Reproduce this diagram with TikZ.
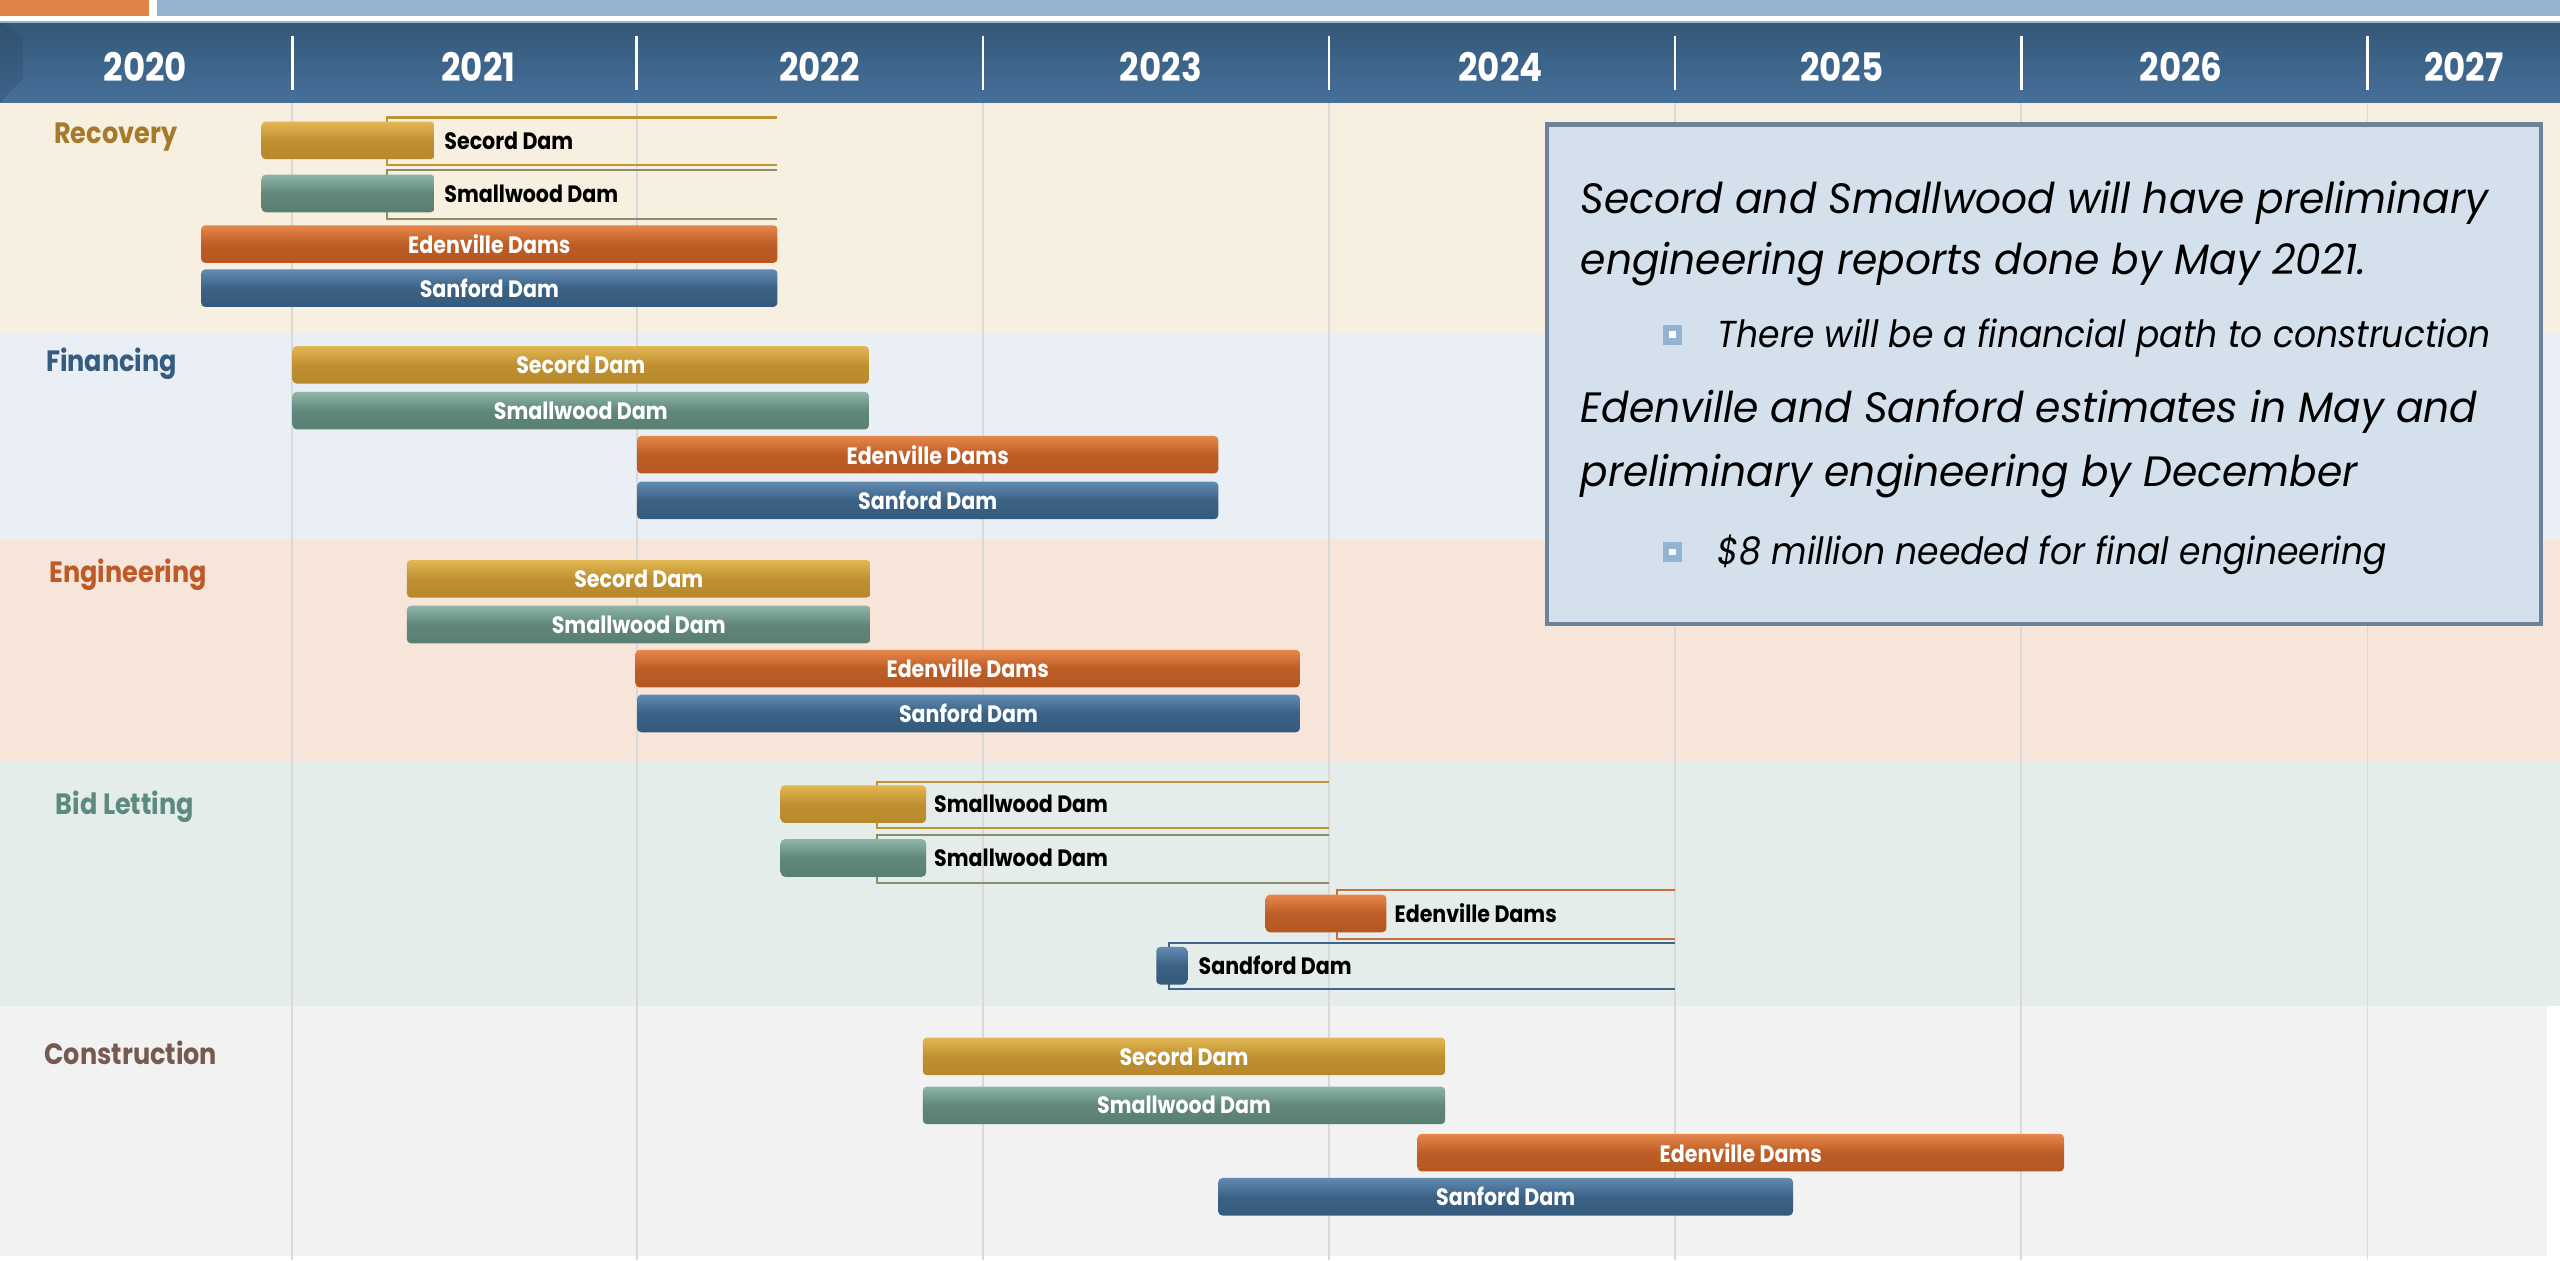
\documentclass[tikz,border=0pt]{standalone}
\usepackage{fontspec}
\setmainfont[FakeStretch=0.87]{Poppins}
\newfontfamily\notefont[FakeStretch=0.96]{Poppins}
\newfontfamily\subfont[FakeStretch=0.92]{Poppins}
\usetikzlibrary{positioning}

\definecolor{stripOrange}{HTML}{E0824A}
\definecolor{stripBlue}{HTML}{95B3D1}
\definecolor{hdrTop}{HTML}{335778}
\definecolor{hdrBottom}{HTML}{46709A}
\definecolor{hdrEdge}{HTML}{9FB3C6}
\definecolor{bandRecovery}{HTML}{F7EFDF}
\definecolor{bandFinance}{HTML}{EAEFF6}
\definecolor{bandEngineer}{HTML}{F8E5DA}
\definecolor{bandBid}{HTML}{E4EDEA}
\definecolor{bandBuild}{HTML}{F2F2F2}
\definecolor{gridGray}{HTML}{D9D9D9}
\definecolor{goldBase}{HTML}{B8892B}
\definecolor{goldTop}{HTML}{E3B752}
\definecolor{tealBase}{HTML}{597F73}
\definecolor{tealTop}{HTML}{8DB5A8}
\definecolor{orangeBase}{HTML}{B65620}
\definecolor{orangeTop}{HTML}{E6874B}
\definecolor{blueBase}{HTML}{345A7D}
\definecolor{blueTop}{HTML}{628BB2}
\definecolor{goldLine}{HTML}{BF9435}
\definecolor{tealLine}{HTML}{8C8E68}
\definecolor{orangeLine}{HTML}{C8703F}
\definecolor{blueLine}{HTML}{3E668C}
\definecolor{phRecovery}{HTML}{A57A2A}
\definecolor{phFinance}{HTML}{355B80}
\definecolor{phEngineer}{HTML}{BD5A28}
\definecolor{phBid}{HTML}{5C8A7E}
\definecolor{phBuild}{HTML}{765A50}
\definecolor{noteFill}{HTML}{D4E1EC}
\definecolor{noteEdge}{HTML}{6C8399}
\definecolor{bulletBlue}{HTML}{93B3D3}

\tikzset{
	bar/.style={anchor=west, rounded corners=2.5pt, minimum height=23pt, inner sep=0pt, text=white, font=\bfseries\fontsize{14.5}{14.5}\selectfont},
	goldbar/.style={bar, top color=goldTop, bottom color=goldBase, middle color=goldBase!85!goldTop},
	tealbar/.style={bar, top color=tealTop, bottom color=tealBase, middle color=tealBase!85!tealTop},
	orangebar/.style={bar, top color=orangeTop, bottom color=orangeBase, middle color=orangeBase!85!orangeTop},
	bluebar/.style={bar, top color=blueTop, bottom color=blueBase, middle color=blueBase!85!blueTop},
	tag/.style={anchor=west, inner sep=0pt, text=black, font=\bfseries\fontsize{14.5}{14.5}\selectfont},
	phase/.style={anchor=west, inner sep=0pt, font=\bfseries\fontsize{18}{18}\selectfont},
	year/.style={inner sep=0pt, text=white, font=\bfseries\fontsize{24}{24}\selectfont},
	bracket/.style={line width=1.3pt},
	noteline/.style={anchor=base west, inner sep=0pt, font=\notefont\itshape\fontsize{26}{26}\selectfont},
	subline/.style={anchor=base west, inner sep=0pt, font=\subfont\itshape\fontsize{23}{23}\selectfont},
	bullet/.style={draw=bulletBlue, line width=4pt, fill=white, minimum size=8pt, inner sep=0pt}
}

\begin{document}
\begin{tikzpicture}[x=1pt, y=-1pt]
				\useasboundingbox (0,0) rectangle (1568,772);
				\fill[white] (0,0) rectangle (1568,772);
				\fill[stripOrange] (0,0) rectangle (91,9.5);
				\fill[stripBlue] (96,0) rectangle (1568,9.5);
				\fill[bandRecovery] (0,63) rectangle (1568,204);
				\fill[bandFinance] (0,204) rectangle (1568,331);
				\fill[bandEngineer] (0,331) rectangle (1568,466);
				\fill[bandBid] (0,466) rectangle (1568,616);
				\fill[bandBuild] (0,616) rectangle (1560,769);
				\draw[gridGray, line width=1pt] (179,63) -- (179,772);
				\draw[gridGray, line width=1pt] (390,63) -- (390,772);
				\draw[gridGray, line width=1pt] (602,63) -- (602,772);
				\draw[gridGray, line width=1pt] (814,63) -- (814,772);
				\draw[gridGray, line width=1pt] (1026,63) -- (1026,772);
				\draw[gridGray, line width=1pt] (1238,63) -- (1238,772);
				\draw[gridGray, line width=1pt] (1450,63) -- (1450,772);
				\shade[top color=hdrTop, bottom color=hdrBottom] (0,13.5) rectangle (1568,63);
				\fill[hdrTop!80!black, opacity=0.3] (0,13.5) -- (14,22) -- (14,48) -- (0,63) -- cycle;
				\draw[hdrEdge, line width=1pt] (0,13.5) -- (1568,13.5);
				\draw[white, line width=1.6pt] (179,22) -- (179,55);
				\draw[white, line width=1.6pt] (390,22) -- (390,55);
				\draw[white, line width=1.6pt] (602,22) -- (602,55);
				\draw[white, line width=1.6pt] (814,22) -- (814,55);
				\draw[white, line width=1.6pt] (1026,22) -- (1026,55);
				\draw[white, line width=1.6pt] (1238,22) -- (1238,55);
				\draw[white, line width=1.6pt] (1450,22) -- (1450,55);
				\node[year] (y2020) at (89,41) {2020};
				\node[year] (y2021) at (293,41) {2021};
				\node[year] (y2022) at (502,41) {2022};
				\node[year] (y2023) at (711,41) {2023};
				\node[year] (y2024) at (919,41) {2024};
				\node[year] (y2025) at (1128,41) {2025};
				\node[year] (y2026) at (1336,41) {2026};
				\node[year] (y2027) at (1509,41) {2027};
				\node[phase, text=phRecovery] (recovery) at (33,84) {Recovery};
				\node[phase, text=phFinance] (financing) at (28,223) {Financing};
				\node[phase, text=phEngineer] (engineering) at (30,352) {Engineering};
				\node[phase, text=phBid] (bidding) at (34,494) {Bid Letting};
				\node[phase, text=phBuild] (construction) at (27,645) {Construction};
				\draw[bracket, goldLine] (476,72) -| (237,101) -- (476,101);
				\draw[bracket, tealLine] (476,104) -| (237,134) -- (476,134);
				\node[goldbar, minimum width=106pt] (recSecord) at (160,86) {};
				\node[tag] (recSecordTag) at (272,86) {Secord Dam};
				\node[tealbar, minimum width=106pt] (recSmall) at (160,118.5) {};
				\node[tag] (recSmallTag) at (272,118.5) {Smallwood Dam};
				\node[orangebar, minimum width=353pt] (recEden) at (123,149.5) {Edenville Dams};
				\node[bluebar, minimum width=353pt] (recSan) at (123,176.5) {Sanford Dam};
				\node[goldbar, minimum width=353pt] (finSecord) at (179,223.5) {Secord Dam};
				\node[tealbar, minimum width=353pt] (finSmall) at (179,251.5) {Smallwood Dam};
				\node[orangebar, minimum width=356pt] (finEden) at (390,278.5) {Edenville Dams};
				\node[bluebar, minimum width=356pt] (finSan) at (390,306.5) {Sanford Dam};
				\node[goldbar, minimum width=284pt] (engSecord) at (249,354.5) {Secord Dam};
				\node[tealbar, minimum width=284pt] (engSmall) at (249,382.5) {Smallwood Dam};
				\node[orangebar, minimum width=407pt] (engEden) at (389,409.5) {Edenville Dams};
				\node[bluebar, minimum width=406pt] (engSan) at (390,437) {Sanford Dam};
				\draw[bracket, goldLine] (814,479) -| (537,507) -- (814,507);
				\draw[bracket, tealLine] (814,511.5) -| (537,541) -- (814,541);
				\draw[bracket, orangeLine] (1026,545) -| (819,575) -- (1026,575);
				\draw[bracket, blueLine] (1026,577.5) -| (716,606) -- (1026,606);
				\node[goldbar, minimum width=89pt] (bidSmallA) at (478,492.5) {};
				\node[tag] (bidSmallATag) at (572,492.5) {Smallwood Dam};
				\node[tealbar, minimum width=89pt] (bidSmallB) at (478,525.5) {};
				\node[tag] (bidSmallBTag) at (572,525.5) {Smallwood Dam};
				\node[orangebar, minimum width=74pt] (bidEden) at (775,559.5) {};
				\node[tag] (bidEdenTag) at (854,559.5) {Edenville Dams};
				\node[bluebar, minimum width=19pt] (bidSan) at (708,591.5) {};
				\node[tag] (bidSanTag) at (734,591.5) {Sandford Dam};
				\node[goldbar, minimum width=320pt] (conSecord) at (565,647) {Secord Dam};
				\node[tealbar, minimum width=320pt] (conSmall) at (565,677) {Smallwood Dam};
				\node[orangebar, minimum width=396pt] (conEden) at (868,706) {Edenville Dams};
				\node[bluebar, minimum width=352pt] (conSan) at (746,733) {Sanford Dam};
				\node[draw=noteEdge, line width=2.5pt, fill=noteFill, anchor=north west, minimum width=609pt, minimum height=306pt] (note) at (946,75) {};
				\node[noteline] (note1) at (968,131) {Secord and Smallwood will have preliminary};
				\node[noteline] (note2) at (968,168) {engineering reports done by May 2021.};
				\node[bullet] (dot1) at (1024.5,205) {};
				\node[subline] (note3) at (1052,213) {There will be a financial path to construction};
				\node[noteline] (note4) at (968,259) {Edenville and Sanford estimates in May and};
				\node[noteline] (note5) at (968,298) {preliminary engineering by December};
				\node[bullet] (dot2) at (1024.5,338) {};
				\node[subline] (note6) at (1052,346) {\$8 million needed for final engineering};
			\end{tikzpicture}
\end{document}
